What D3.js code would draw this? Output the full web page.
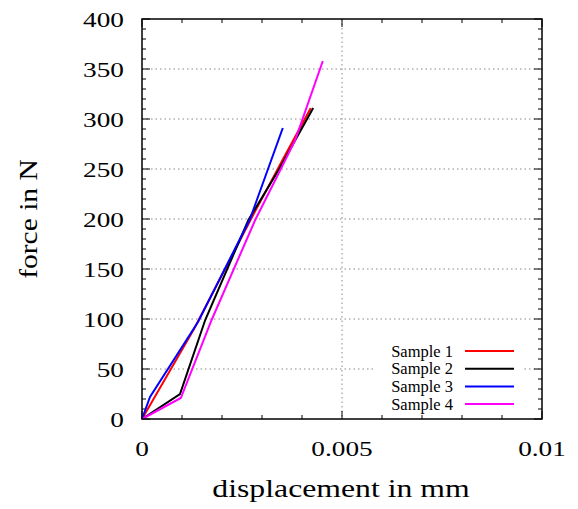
<!DOCTYPE html>
<html><head><meta charset="utf-8">
<script src="https://cdn.jsdelivr.net/npm/d3@7"></script>
<style>body{margin:0;background:#fff}svg{display:block}text{font-family:"Liberation Serif","Times New Roman",serif;fill:#000}</style>
</head><body><svg id="c" width="578" height="509"></svg>
<script>
const seriesNames = ["Sample 1","Sample 2","Sample 3","Sample 4"];
const seriesColors = ["#ff0000","#000000","#0000ff","#ff00ff"];
const sample1 = [[0,0],[0.0013,90],[0.0027,198],[0.0035,258],[0.00422,311]];
const sample2 = [[0,0],[0.00095,25],[0.00158,99],[0.00266,199],[0.00343,250],[0.00428,311]];
const sample3 = [[0,0],[0.0002,22],[0.0014,97],[0.0027,200],[0.00352,291]];
const sample4 = [[0,0],[0.00097,21],[0.00174,99],[0.00283,199],[0.00347,250],[0.00383,279],[0.00452,358]];
const xTicks = [0,0.005,0.01];
const xTickLabels = ["0","0.005","0.01"];
const yTicks = [0,50,100,150,200,250,300,350,400];

const svg = d3.select("#c");
const L=142,R=542,T=19,B=419;
const x = d3.scaleLinear().domain([0,0.01]).range([L,R]);
const y = d3.scaleLinear().domain([0,400]).range([B,T]);

// grid
const g = svg.append("g");
g.selectAll(".gy").data(yTicks.filter(v=>v>0&&v<400)).join("line")
 .attr("x1",L).attr("x2",R).attr("y1",d=>y(d)).attr("y2",d=>y(d))
 .attr("stroke","#888").attr("stroke-width",1).attr("stroke-dasharray","1.5,3");
g.selectAll(".gx").data(xTicks.filter(v=>v>0&&v<0.01)).join("line")
 .attr("y1",T).attr("y2",B).attr("x1",d=>x(d)).attr("x2",d=>x(d))
 .attr("stroke","#888").attr("stroke-width",1).attr("stroke-dasharray","1.5,3");

// ticks (inward, mirrored)
const yMinor = d3.range(0,401,10);
const xMinor = d3.range(0,11).map(i=>i*0.001);
const tk = svg.append("g").attr("stroke","#000").attr("stroke-width",1);
yMinor.forEach(v=>{
  const len = v%50===0?8:4;
  tk.append("line").attr("x1",L).attr("x2",L+len).attr("y1",y(v)).attr("y2",y(v));
  tk.append("line").attr("x1",R).attr("x2",R-len).attr("y1",y(v)).attr("y2",y(v));
});
xMinor.forEach((v,i)=>{
  const len = i%5===0?8:4;
  tk.append("line").attr("y1",B).attr("y2",B-len).attr("x1",x(v)).attr("x2",x(v));
  tk.append("line").attr("y1",T).attr("y2",T+len).attr("x1",x(v)).attr("x2",x(v));
});

// series
const line = d3.line().x(d=>x(d[0])).y(d=>y(d[1]));
const allSeries=[sample1,sample2,sample3,sample4];
allSeries.forEach((s,i)=>{
  svg.append("path").attr("d",line(s)).attr("fill","none")
   .attr("stroke",seriesColors[i]).attr("stroke-width",2).attr("stroke-linejoin","miter");
});

// frame
svg.append("rect").attr("x",L).attr("y",T).attr("width",R-L).attr("height",B-T)
 .attr("fill","none").attr("stroke","#000").attr("stroke-width",1.5);

// tick labels (wide serif look)
const SX=1.24;
svg.selectAll(".yl").data(yTicks).join("text")
 .attr("transform",d=>`translate(124,${y(d)}) scale(${SX},1)`).attr("dy","0.35em").attr("text-anchor","end")
 .attr("font-size",22).text(d=>d);
svg.selectAll(".xl").data(xTicks).join("text")
 .attr("transform",d=>`translate(${x(d)},456) scale(${SX},1)`).attr("text-anchor","middle")
 .attr("font-size",22).text((d,i)=>xTickLabels[i]);

// axis titles
svg.append("text").attr("transform","translate(341,497) scale(1.27,1)").attr("text-anchor","middle")
 .attr("font-size",25).text("displacement in mm");
svg.append("text").attr("transform","translate(37,219) rotate(-90) scale(1.18,1)").attr("text-anchor","middle")
 .attr("font-size",25).text("force in N");

// legend
const lg = svg.append("g");
lg.append("rect").attr("x",374).attr("y",340).attr("width",148).attr("height",72).attr("fill","#fff");
seriesNames.forEach((n,i)=>{
  const yy = 351 + i*17.7;
  lg.append("text").attr("x",453).attr("y",yy).attr("dy","0.35em").attr("text-anchor","end")
    .attr("font-size",16.5).text(n);
  lg.append("line").attr("x1",465).attr("x2",514).attr("y1",yy).attr("y2",yy)
    .attr("stroke",seriesColors[i]).attr("stroke-width",2);
});
</script></body></html>
